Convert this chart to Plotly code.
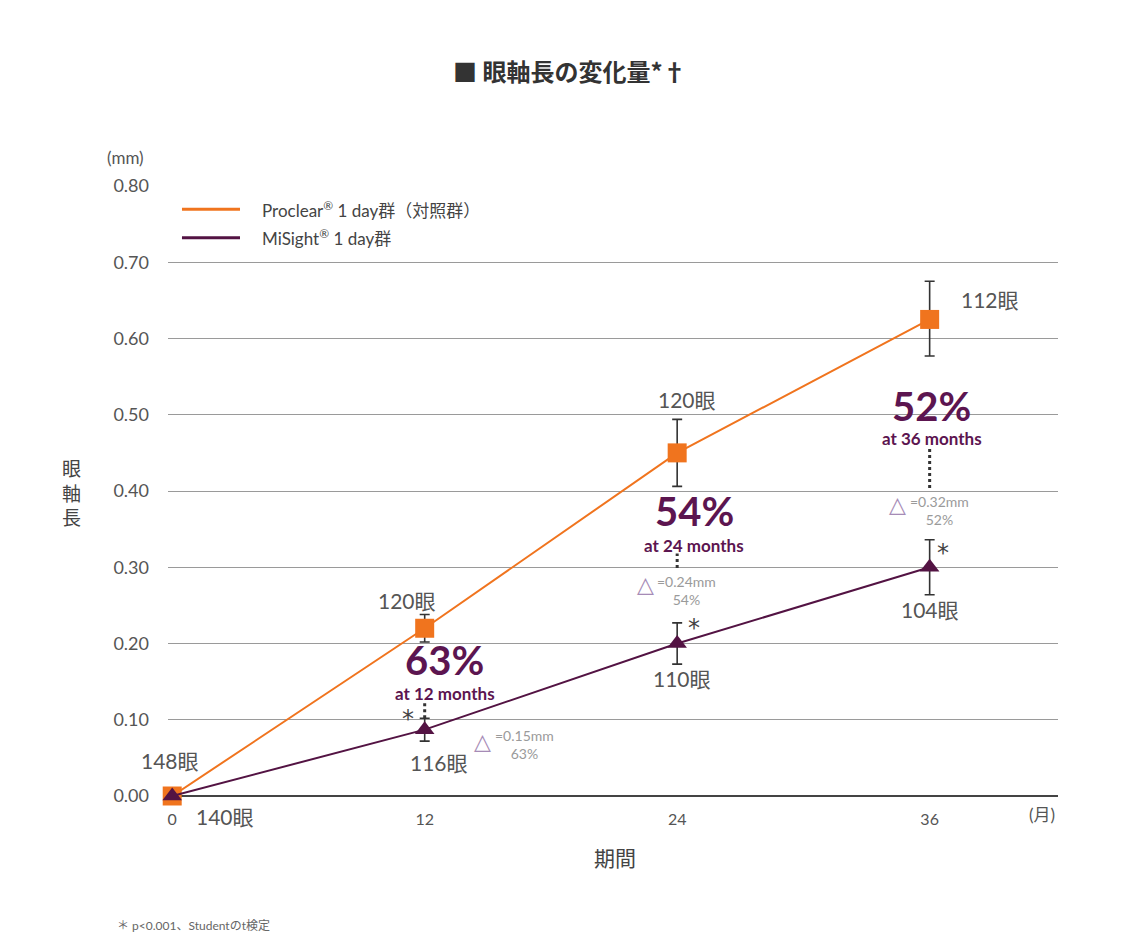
import plotly.graph_objects as go

# ---------------- data ----------------
months = [0, 12, 24, 36]
proclear = [0.0, 0.22, 0.45, 0.625]
proclear_err_plus = [0.0, 0.018, 0.044, 0.05]
proclear_err_minus = [0.0, 0.018, 0.044, 0.048]
misight = [0.0, 0.087, 0.20, 0.30]
misight_err_plus = [0.0, 0.015, 0.027, 0.036]
misight_err_minus = [0.0, 0.015, 0.027, 0.036]
proclear_n = ["148眼", "120眼", "120眼", "112眼"]
misight_n = ["140眼", "116眼", "110眼", "104眼"]
reduction_pct = ["63%", "54%", "52%"]
reduction_label = ["at 12 months", "at 24 months", "at 36 months"]
delta_mm = ["=0.15mm", "=0.24mm", "=0.32mm"]
y_ticks = [0.0, 0.1, 0.2, 0.3, 0.4, 0.5, 0.6, 0.7, 0.8]
x_ticks = [0, 12, 24, 36]

ORANGE = "#f0741e"
PURPLE = "#531343"
PCT_COL = "#5c1550"
GREY = "#555555"
FONT = "Lato, 'Noto Sans CJK JP', sans-serif"
JP = "'Noto Sans CJK JP', sans-serif"

fig = go.Figure()
fig.add_trace(go.Scatter(
    x=months, y=proclear, mode="lines+markers", name="Proclear® 1 day群(対照群)",
    line=dict(color=ORANGE, width=2),
    marker=dict(symbol="square", size=19, color=ORANGE),
    error_y=dict(type="data", array=proclear_err_plus, arrayminus=proclear_err_minus,
                 color="#333333", thickness=1.6, width=5),
    cliponaxis=False, showlegend=False))
fig.add_trace(go.Scatter(
    x=months, y=misight, mode="lines+markers", name="MiSight® 1 day群",
    line=dict(color=PURPLE, width=2),
    marker=dict(symbol="triangle-up", size=17, color=PURPLE),
    error_y=dict(type="data", array=misight_err_plus, arrayminus=misight_err_minus,
                 color="#333333", thickness=1.6, width=5),
    cliponaxis=False, showlegend=False))

ann = []
def txt(text, x, y, size, color=GREY, xshift=0, yshift=0, xref="x", yref="y",
        bold=False, family=FONT, xanchor="center", align="center"):
    if bold:
        text = "<b>" + text + "</b>"
    ann.append(dict(text=text, x=x, y=y, xref=xref, yref=yref, xshift=xshift,
                    yshift=yshift, showarrow=False, xanchor=xanchor, yanchor="middle",
                    align=align, font=dict(size=size, color=color, family=family)))

# sample-size labels
p_shift = [(-2, 36), (-18, 28), (10, 53), (60, 20)]
m_shift = [(53, -20), (14, -33), (5, -35), (0, -42)]
for i in range(4):
    txt(proclear_n[i], months[i], proclear[i], 21, xshift=p_shift[i][0], yshift=p_shift[i][1])
    txt(misight_n[i], months[i], misight[i], 21, xshift=m_shift[i][0], yshift=m_shift[i][1])

# significance asterisks
ast_shift = [(-17, 11), (17, 16), (13, 14)]
for i in range(1, 4):
    txt("*", months[i], misight[i], 24, color="#444", family="DejaVu Sans",
        xshift=ast_shift[i-1][0], yshift=ast_shift[i-1][1])

# reduction annotations
pct_y = [0.179, 0.374, 0.512]
lab_y = [0.134, 0.329, 0.469]
pct_xs = [20, 17, 2]
dot_rng = [(0.102, 0.122), (0.299, 0.318), (0.404, 0.456)]
tri_pos = [(58, 0.071), (-32, 0.277), (-32, 0.382)]
dtxt_pos = [(68, 0.067), (-22, 0.270), (-22, 0.375)]
shapes = []
for i in range(3):
    xm = months[i + 1]
    txt(reduction_pct[i], xm, pct_y[i], 40, color=PCT_COL, bold=True, xshift=pct_xs[i])
    txt(reduction_label[i], xm, lab_y[i], 17, color=PCT_COL, bold=True, xshift=pct_xs[i])
    shapes.append(dict(type="line", xref="x", yref="y", x0=xm, x1=xm,
                       y0=dot_rng[i][0], y1=dot_rng[i][1],
                       line=dict(color="#333333", width=3, dash="dot")))
    txt("△", xm, tri_pos[i][1], 22, color="#a68bb6", family="DejaVu Sans", xshift=tri_pos[i][0])
    txt(delta_mm[i] + "<br>" + reduction_pct[i], xm, dtxt_pos[i][1], 14, color="#9a9a9a",
        xshift=dtxt_pos[i][0], xanchor="left")

# legend (drawn)
shapes.append(dict(type="line", xref="paper", yref="paper", x0=0.0157, x1=0.0809,
                   y0=0.962, y1=0.962, line=dict(color=ORANGE, width=3)))
shapes.append(dict(type="line", xref="paper", yref="paper", x0=0.0157, x1=0.0809,
                   y0=0.915, y1=0.915, line=dict(color=PURPLE, width=3)))
txt("Proclear<sup>®</sup> 1 day群（対照群）", 0.103, 0.962, 17, color="#444", xref="paper",
    yref="paper", xanchor="left")
txt("MiSight<sup>®</sup> 1 day群", 0.103, 0.915, 17, color="#444", xref="paper", yref="paper",
    xanchor="left")

# titles & axis labels
txt("■ 眼軸長の変化量*†", 0.452, 1.19, 24, color="#333", xref="paper", yref="paper",
    bold=True, family=JP)
txt("(mm)", -0.048, 1.0475, 17, color=GREY, xref="paper", yref="paper")
txt("眼<br>軸<br>長", -0.108, 0.498, 19, color="#444", xref="paper", yref="paper", family=JP)
txt("期間", 0.502, -0.10, 21, color="#444", xref="paper", yref="paper", family=JP)
txt("(月)", 0.982, -0.031, 17, color=GREY, xref="paper", yref="paper")
txt("＊ p<0.001、Studentのt検定", -0.06, -0.213, 12, color="#666", xref="paper", yref="paper",
    xanchor="left")

fig.update_layout(
    width=1121, height=949,
    margin=dict(l=160, r=71, t=178, b=161),
    paper_bgcolor="white", plot_bgcolor="white",
    annotations=ann, shapes=shapes,
    xaxis=dict(range=[-0.2, 42.1], tickvals=x_ticks, showgrid=False, zeroline=False,
               showline=False, ticks="", ticklabelstandoff=12,
               tickfont=dict(size=16, color=GREY, family=FONT)),
    yaxis=dict(range=[0, 0.8], tickvals=y_ticks, tickformat=".2f", showgrid=True,
               gridcolor="#9a9a9a", gridwidth=1, zeroline=True, zerolinecolor="#444444",
               zerolinewidth=1.6, showline=False, ticks="", ticklabelstandoff=18,
               tickfont=dict(size=18, color=GREY, family=FONT)),
    font=dict(family=FONT),
)

fig.write_html("out.html")
